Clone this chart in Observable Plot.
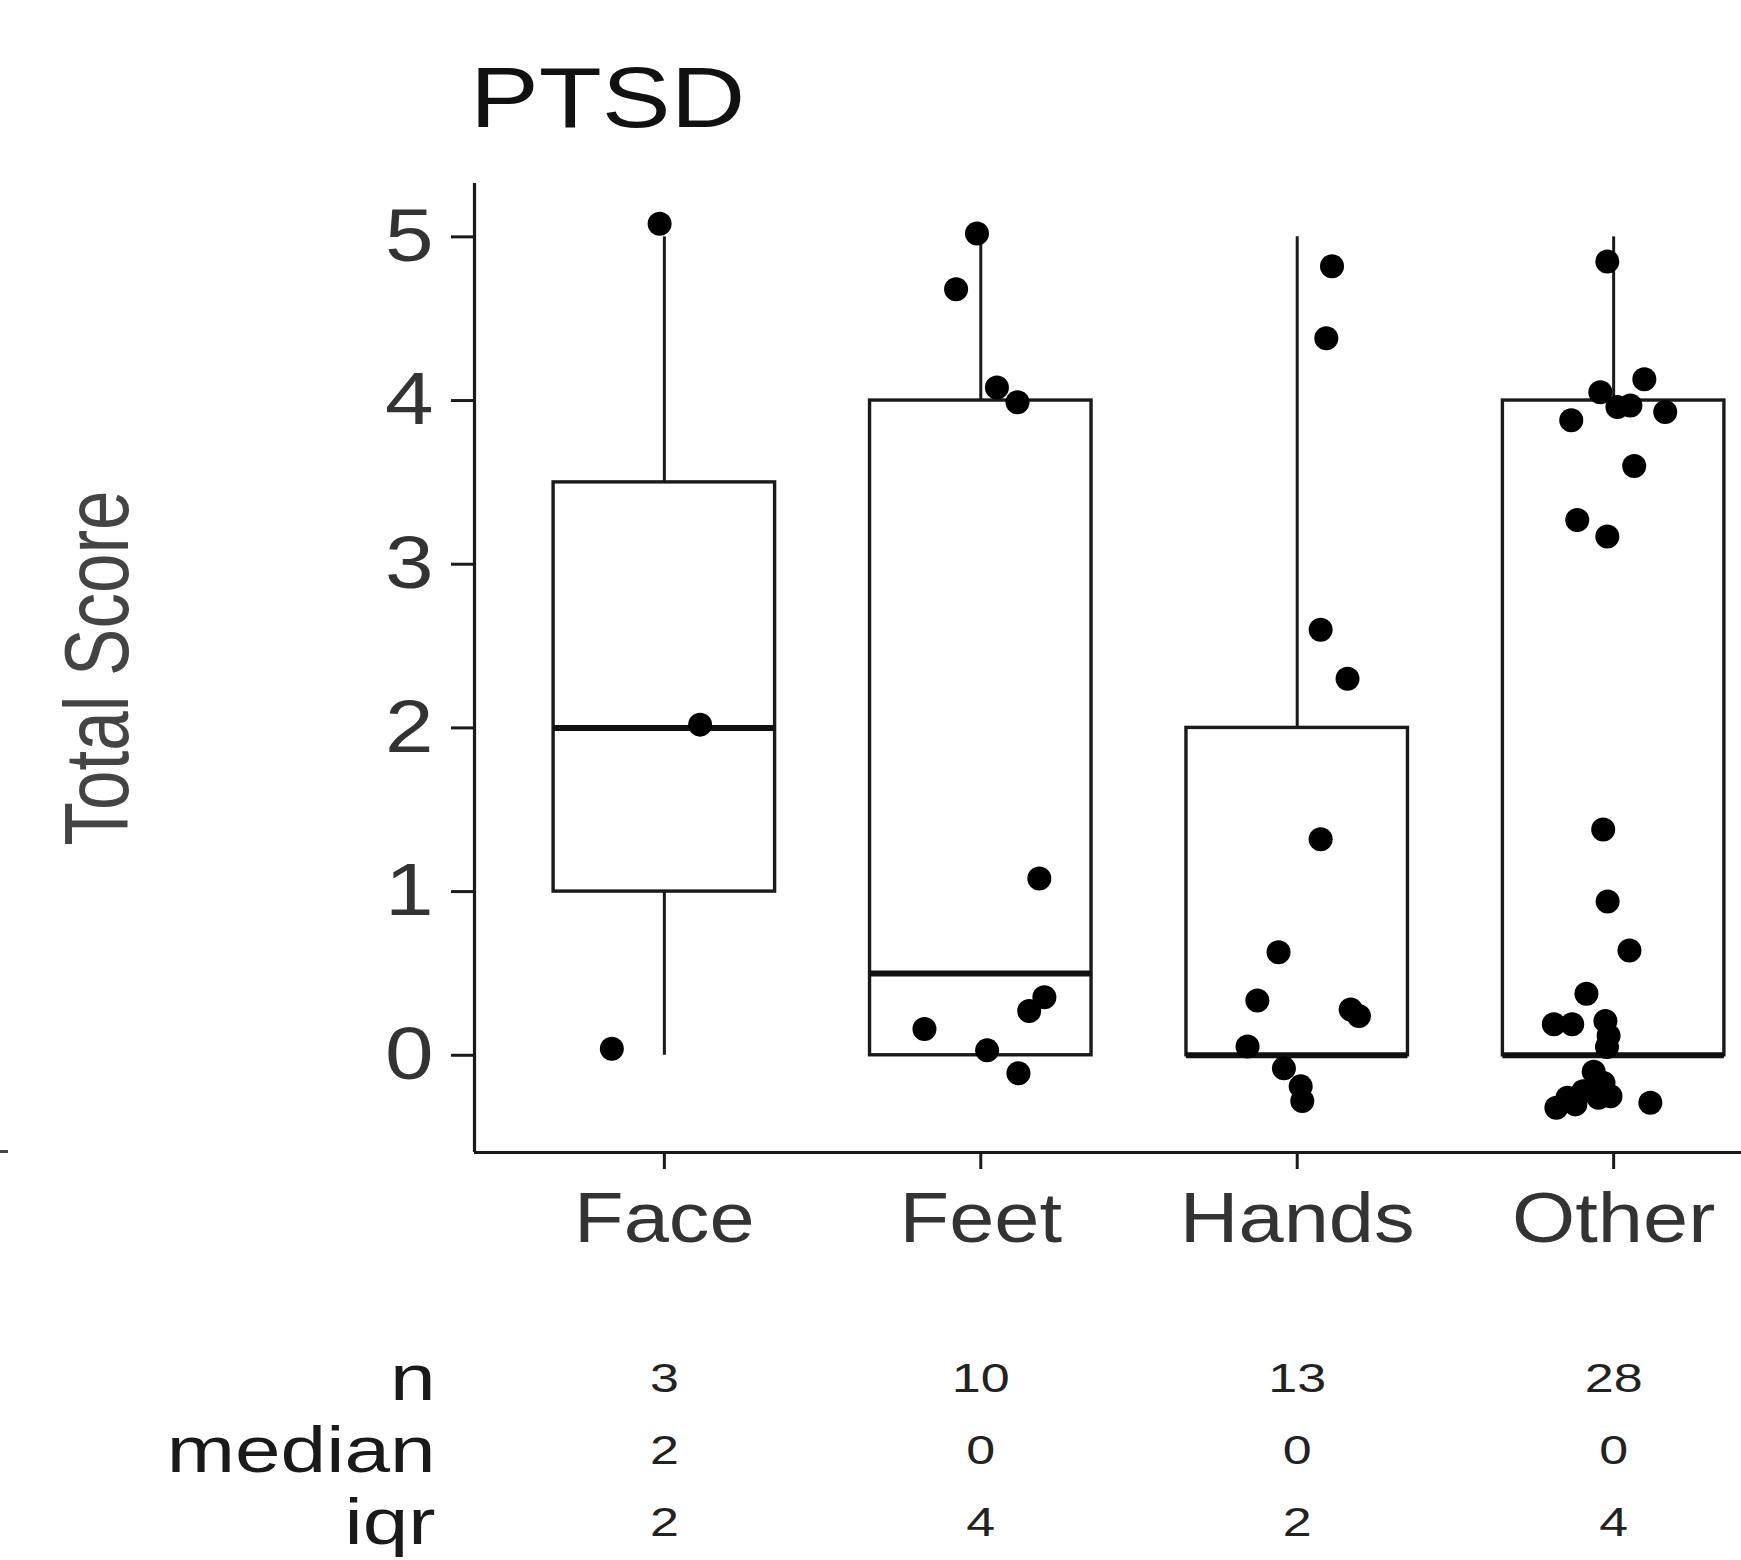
<!DOCTYPE html>
<html><head><meta charset="utf-8">
<script src="https://cdn.jsdelivr.net/npm/d3@7"></script>
<script src="https://cdn.jsdelivr.net/npm/@observablehq/plot@0.6"></script>
<style>
html,body{margin:0;padding:0;background:#fff;overflow:hidden;}
#wrap{position:relative;width:1741px;height:1560px;font-family:"Liberation Sans",Arial,sans-serif;}
#title{position:absolute;left:470px;top:54px;font-size:86px;line-height:1;color:#111;transform:scaleX(1.2);transform-origin:left center;white-space:nowrap;}
#main{position:absolute;left:0;top:0;}
#table{position:absolute;left:0;top:1260px;}
#edge{position:absolute;left:0;top:1150px;width:8px;height:3px;background:#444;}
</style></head>
<body><div id="wrap"><div id="title">PTSD</div><div id="main"></div><div id="table"></div><div id="edge"></div></div>
<script>
// ---- data ----
const categories = ["Face", "Feet", "Hands", "Other"];
const yTicks = [0, 1, 2, 3, 4, 5];
const yLabel = "Total Score";

// box statistics per category
const boxQ1 = [1, 0, 0, 0];
const boxMedian = [2, 0.5, 0, 0];
const boxQ3 = [3.5, 4, 2, 4];
const whiskerLow = [0, 0, 0, 0];
const whiskerHigh = [5, 5, 5, 5];

// jittered points: score (y) and horizontal jitter (in category units)
const faceScore = [5.08, 2.02, 0.04];
const faceJitter = [-0.015, 0.113, -0.166];
const feetScore = [5.02, 4.68, 4.08, 3.99, 1.08, 0.355, 0.27, 0.16, 0.03, -0.11];
const feetJitter = [-0.012, -0.078, 0.051, 0.116, 0.185, 0.201, 0.153, -0.178, 0.020, 0.119];
const handsScore = [4.82, 4.38, 2.60, 2.30, 1.32, 0.63, 0.335, 0.28, 0.24, 0.054, -0.08, -0.19, -0.28];
const handsJitter = [0.110, 0.092, 0.074, 0.159, 0.074, -0.059, -0.126, 0.169, 0.195, -0.157, -0.042, 0.011, 0.016];
const otherScore = [4.85, 4.13, 4.05, 3.96, 3.97, 3.93, 3.88, 3.60, 3.27, 3.17, 1.38, 0.94, 0.64, 0.376, 0.19, 0.19, 0.21, 0.12, 0.05, -0.10, -0.17, -0.22, -0.26, -0.32, -0.26, -0.25, -0.29, -0.30];
const otherJitter = [-0.020, 0.097, -0.042, 0.012, 0.053, 0.163, -0.134, 0.065, -0.115, -0.020, -0.033, -0.019, 0.050, -0.086, -0.189, -0.131, -0.026, -0.016, -0.021, -0.063, -0.032, -0.096, -0.146, -0.181, -0.048, -0.010, 0.116, -0.121];

// summary table under the chart
const rowLabels = ["n", "median", "iqr"];
const statN = [3, 10, 13, 28];
const statMedian = [2, 0, 0, 0];
const statIqr = [2, 4, 2, 4];

// ---- build tables ----
const xDomain = [0.4, 4.6];
const yDomain = [-0.594, 5.326];
const halfWidth = 0.35;
const boxes = categories.map((c, i) => ({pos: i + 1, q1: boxQ1[i], med: boxMedian[i], q3: boxQ3[i], lo: whiskerLow[i], hi: whiskerHigh[i]}));
const groups = [[faceScore, faceJitter], [feetScore, feetJitter], [handsScore, handsJitter], [otherScore, otherJitter]];
const points = [];
groups.forEach(([s, j], i) => s.forEach((v, k) => points.push({pos: i + 1 + j[k], score: v})));
const stats = [statN, statMedian, statIqr];
const tableRows = rowLabels.flatMap((r, ri) => categories.map((c, i) => ({row: r, pos: i + 1, value: stats[ri][i]})));

const font = "'Liberation Sans', Arial, Helvetica, sans-serif";
const ink = "#1a1a1a";

const main = Plot.plot({
  width: 1741, height: 1260,
  marginTop: 183, marginBottom: 108, marginLeft: 474, marginRight: -62,
  style: {fontFamily: font, background: "transparent"},
  x: {type: "linear", domain: xDomain},
  y: {domain: yDomain},
  marks: [
    Plot.ruleX(boxes, {x: "pos", y1: "q3", y2: "hi", stroke: ink, strokeWidth: 3}),
    Plot.ruleX(boxes, {x: "pos", y1: "lo", y2: "q1", stroke: ink, strokeWidth: 3}),
    Plot.rect(boxes, {x1: d => d.pos - halfWidth, x2: d => d.pos + halfWidth, y1: "q1", y2: "q3", fill: "white", stroke: ink, strokeWidth: 3.4}),
    Plot.ruleY(boxes, {y: "med", x1: d => d.pos - halfWidth, x2: d => d.pos + halfWidth, stroke: "#111", strokeWidth: 6}),
    Plot.dot(points, {x: "pos", y: "score", r: 12, fill: "#000", stroke: "none"}),
    Plot.ruleX([xDomain[0]], {stroke: ink, strokeWidth: 3.2}),
    Plot.ruleY([yDomain[0]], {stroke: ink, strokeWidth: 3.2}),
    Plot.axisY(yTicks, {tickSize: 23, tickPadding: 18, fontSize: 74, label: null, tickFormat: d => String(d), stroke: ink, strokeWidth: 3, fill: "#333"}),
    Plot.axisX(categories.map((c, i) => i + 1), {tickSize: 17, tickPadding: 23, fontSize: 70, label: null, tickFormat: d => categories[d - 1], stroke: ink, strokeWidth: 3, fill: "#333"}),
    Plot.text([yLabel], {frameAnchor: "left", textAnchor: "middle", rotate: -90, dx: -411, lineAnchor: "top", fontSize: 91, fill: "#444"})
  ]
});
document.getElementById("main").appendChild(main);

const table = Plot.plot({
  width: 1741, height: 300,
  marginTop: 118, marginBottom: 37, marginLeft: 474, marginRight: -62,
  style: {fontFamily: font, background: "transparent"},
  x: {type: "linear", domain: xDomain, axis: null},
  y: {type: "point", domain: rowLabels, padding: 0},
  marks: [
    Plot.axisY({tickSize: 0, tickPadding: 39, fontSize: 64, label: null, fill: ink}),
    Plot.text(tableRows, {x: "pos", y: "row", text: d => String(d.value), fontSize: 40, fill: "#222"})
  ]
});
document.getElementById("table").appendChild(table);

// widen glyphs horizontally to match the reference's wide lettering
function stretch(svg, pick) {
  svg.querySelectorAll("text").forEach(t => {
    const f = pick(t.textContent.trim());
    if (!f) return;
    const L = t.getComputedTextLength();
    t.setAttribute("textLength", (L * f).toFixed(1));
    t.setAttribute("lengthAdjust", "spacingAndGlyphs");
  });
}
stretch(main, s => categories.includes(s) ? 1.16 : /^\d$/.test(s) ? 1.18 : null);
stretch(table, s => rowLabels.includes(s) ? 1.28 : /^\d+$/.test(s) ? 1.3 : null);

// the rotated axis title is condensed along its length (keeps its centre)
main.querySelectorAll("text").forEach(t => {
  if (t.textContent.trim() !== yLabel) return;
  const tr = t.getAttribute("transform") || "";
  if (/rotate/.test(tr)) t.setAttribute("transform", tr + " scale(0.78,1)");
});
</script>
</body></html>
